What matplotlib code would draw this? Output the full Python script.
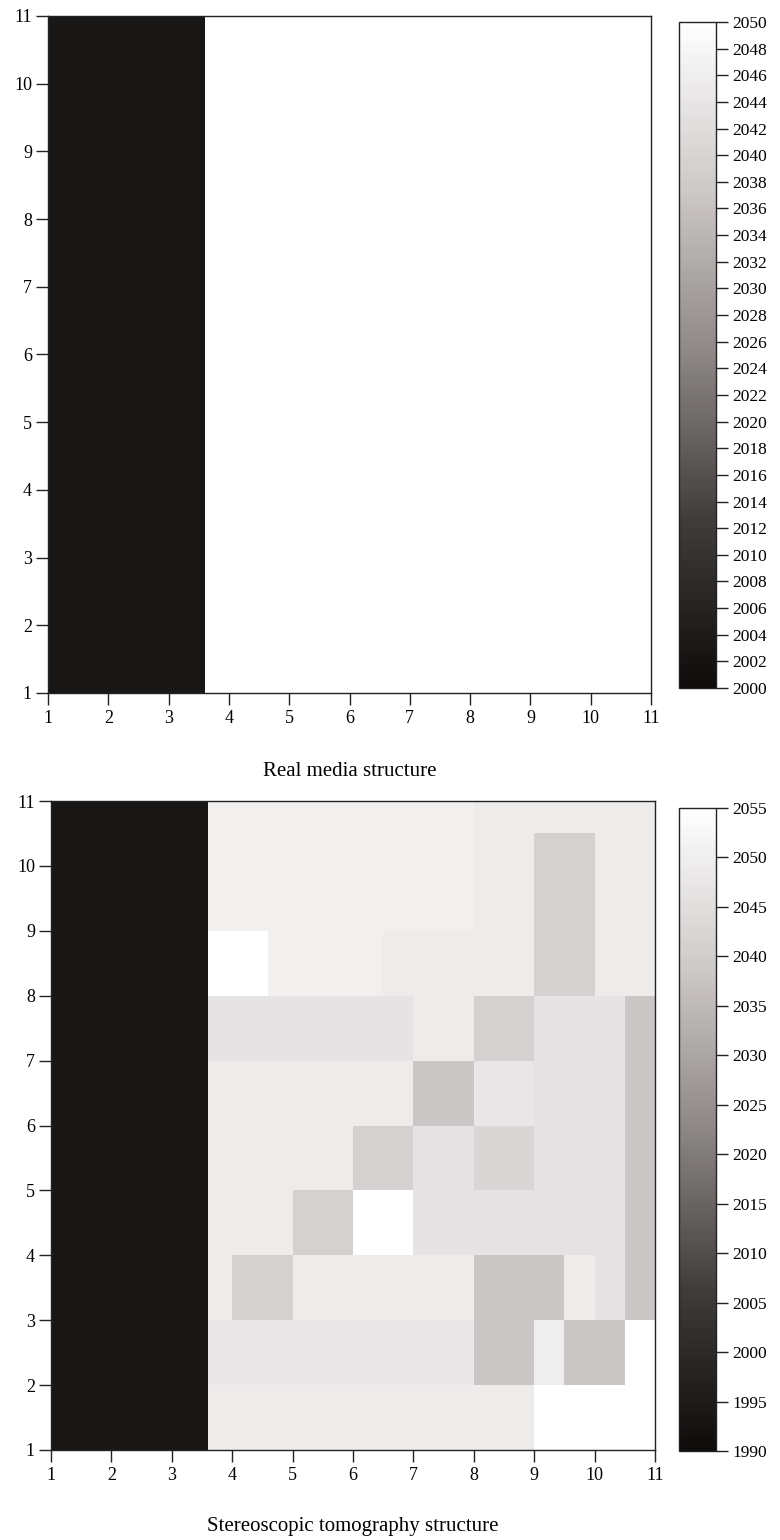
import numpy as np
import matplotlib
matplotlib.use("Agg")
import matplotlib.pyplot as plt
from matplotlib.colors import LinearSegmentedColormap

plt.rcParams['font.family'] = ['Liberation Serif', 'DejaVu Serif']

# ---------------- data ----------------
# Top panel: real media structure
top_x_edges = [1, 3.6, 11]
top_y_edges = [1, 11]
top_values = [[2002.8, 2050.0]]
top_vmin, top_vmax = 2000, 2050
top_cbar_ticks = list(range(2000, 2051, 2))
top_title = "Real media structure"

# Bottom panel: stereoscopic tomography structure
bot_x_edges = [1, 3.6, 4.0, 4.6, 5, 6, 6.5, 7, 8, 9, 9.5, 10, 10.5, 11]
bot_y_edges = [1, 2, 3, 4, 5, 6, 7, 8, 9, 10, 10.5, 11]
K, W = 1993.6, 2055.0
A, E, EE = 2050.3, 2049.1, 2049.7
L8, L7, L4, L3 = 2047.8, 2047.5, 2046.4, 2046.2
D8, G, C = 2042.8, 2041.2, 2037.8
bot_values = [
    # c0  c1  c2  c3  c4  c5  c6  c7  c8  c9  c10 c11 c12
    [K,  E,  E,  E,  E,  E,  E,  E,  E,  W,  W,  W,  W],   # 1-2
    [K,  L8, L8, L8, L8, L8, L8, L8, C,  EE, C,  C,  W],   # 2-3
    [K,  E,  G,  G,  E,  E,  E,  E,  C,  C,  E,  L3, C],   # 3-4
    [K,  E,  E,  E,  G,  W,  W,  L4, L3, L3, L3, L3, C],   # 4-5
    [K,  E,  E,  E,  E,  G,  G,  L4, D8, L3, L3, L3, C],   # 5-6
    [K,  E,  E,  E,  E,  E,  E,  C,  L7, L3, L3, L3, C],   # 6-7
    [K,  L4, L4, L4, L4, L4, L4, E,  G,  L4, L4, L4, C],   # 7-8
    [K,  W,  W,  A,  A,  A,  E,  E,  E,  G,  G,  E,  E],   # 8-9
    [K,  A,  A,  A,  A,  A,  A,  A,  E,  G,  G,  E,  E],   # 9-10
    [K,  A,  A,  A,  A,  A,  A,  A,  E,  G,  G,  E,  E],   # 10-10.5
    [K,  A,  A,  A,  A,  A,  A,  A,  E,  E,  E,  E,  E],   # 10.5-11
]
bot_vmin, bot_vmax = 1990, 2055
bot_cbar_ticks = list(range(1990, 2056, 5))
bot_title = "Stereoscopic tomography structure"

axis_ticks = list(range(1, 12))

# ---------------- style ----------------
cmap = LinearSegmentedColormap.from_list(
    "warmgray",
    [(0.0, "#0e0c0b"), (0.25, "#403c3a"), (0.5, "#8c8785"),
     (0.75, "#cdc9c8"), (1.0, "#ffffff")])

W_PX, H_PX = 780, 1540
fig = plt.figure(figsize=(W_PX / 100, H_PX / 100), dpi=100)


def px_axes(l, t, r, b):
    return fig.add_axes([l / W_PX, 1 - b / H_PX, (r - l) / W_PX, (b - t) / H_PX])


FS = 13
CFS = 12.5
TICKLEN = 8.5


def draw_panel(ax, cax, xe, ye, vals, vmin, vmax, cticks, title, title_y, cx):
    mesh = ax.pcolormesh(xe, ye, np.array(vals), cmap=cmap, vmin=vmin, vmax=vmax,
                         shading='flat')
    ax.set_xlim(1, 11)
    ax.set_ylim(1, 11)
    ax.set_xticks(axis_ticks)
    ax.set_yticks(axis_ticks)
    ax.tick_params(direction='out', length=TICKLEN, width=1, labelsize=FS,
                   color='#222222')
    ax.tick_params(axis='y', pad=3)
    ax.tick_params(axis='x', pad=4)
    for s in ax.spines.values():
        s.set_linewidth(1)
        s.set_color('#222222')
    cb = fig.colorbar(mesh, cax=cax, ticks=cticks)
    cb.outline.set_linewidth(1)
    cb.outline.set_edgecolor('#222222')
    cax.tick_params(direction='out', length=TICKLEN, width=1, labelsize=CFS,
                    color='#222222', pad=3)
    fig.text(cx / W_PX, 1 - title_y / H_PX, title, ha='center', va='center',
             fontsize=15)


ax1 = px_axes(48, 16, 651, 693)
cax1 = px_axes(679, 22, 716, 688)
draw_panel(ax1, cax1, top_x_edges, top_y_edges, top_values, top_vmin, top_vmax,
           top_cbar_ticks, top_title, 772, 350)

ax2 = px_axes(51, 801, 655, 1450)
cax2 = px_axes(679, 808, 716, 1451)
draw_panel(ax2, cax2, bot_x_edges, bot_y_edges, bot_values, bot_vmin, bot_vmax,
           bot_cbar_ticks, bot_title, 1527, 353)

fig.savefig("out.png", dpi=100)
